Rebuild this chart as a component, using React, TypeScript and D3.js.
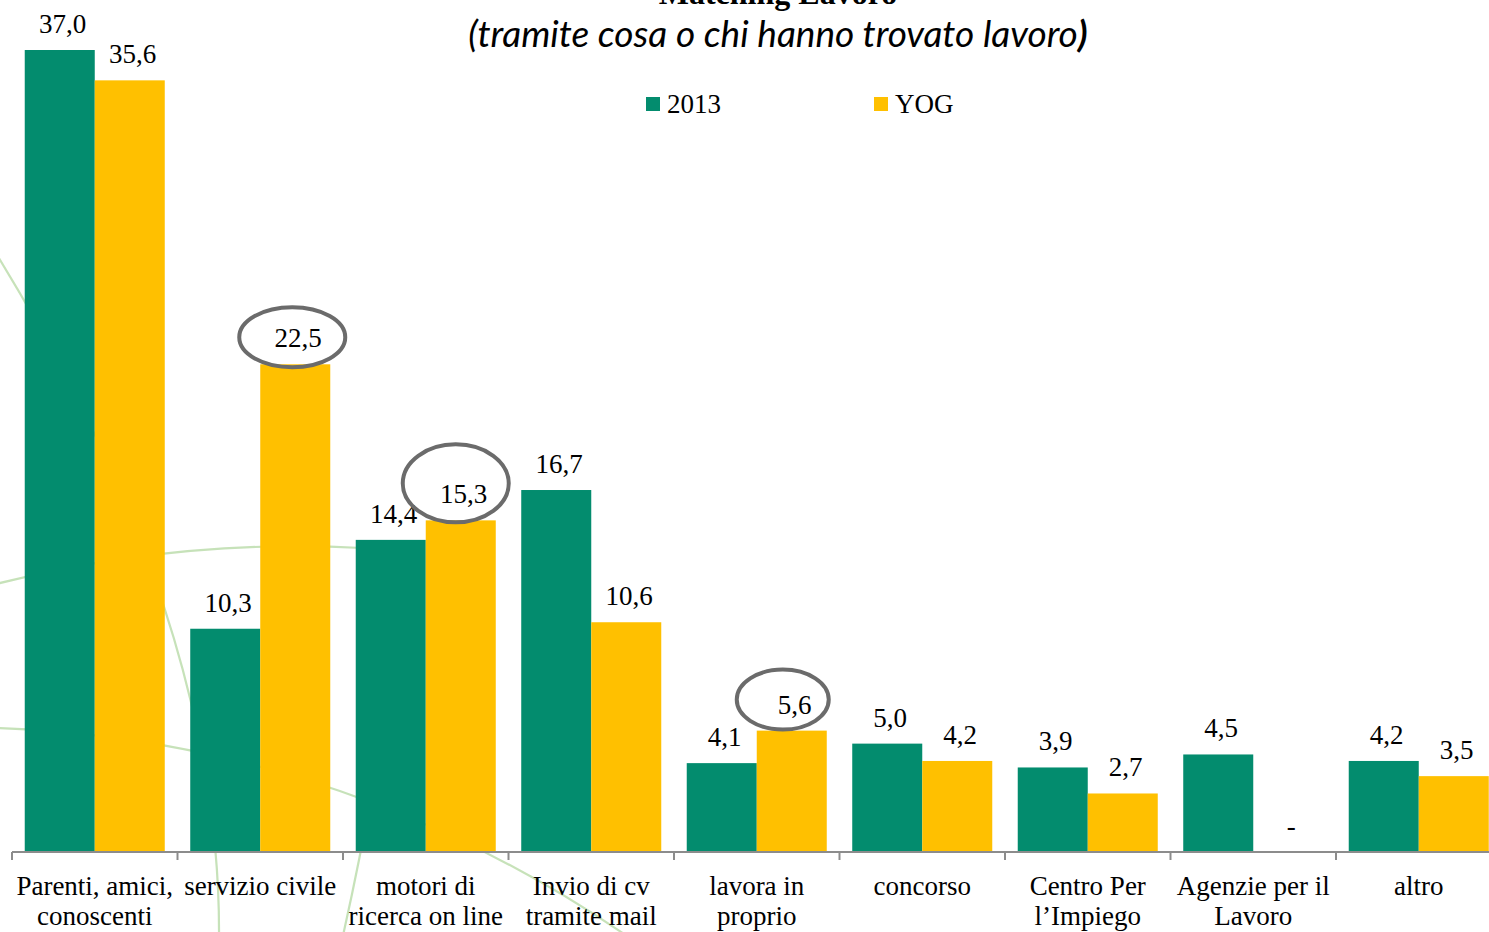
import React from "react";
import * as d3 from "d3";

const categories: string[][] = [
  ["Parenti, amici,", "conoscenti"],
  ["servizio civile"],
  ["motori di", "ricerca on line"],
  ["Invio di cv", "tramite mail"],
  ["lavora in", "proprio"],
  ["concorso"],
  ["Centro Per", "l\u2019Impiego"],
  ["Agenzie per il", "Lavoro"],
  ["altro"],
];
const seriesNames = ["2013", "YOG"];
const values2013 = [37.0, 10.3, 14.4, 16.7, 4.1, 5.0, 3.9, 4.5, 4.2];
const valuesYOG: (number | null)[] = [35.6, 22.5, 15.3, 10.6, 5.6, 4.2, 2.7, null, 3.5];
const highlighted = [
  { cat: 1, dx: -3, dy: -27, rx: 53, ry: 30 },
  { cat: 2, dx: -5, dy: -37, rx: 53, ry: 39 },
  { cat: 4, dx: -9, dy: -31, rx: 46, ry: 30 },
];
const colors = ["#038C6E", "#FFC000"];

const W = 1489;
const H = 932;
const baseY = 852;
const step = 165.5;
const left = 12;

const fmt = (v: number) => v.toFixed(1).replace(".", ",");

export default function App() {
  const keys = categories.map((c) => c.join(" "));
  const x0 = d3
    .scaleBand<string>()
    .domain(keys)
    .range([left, left + step * keys.length])
    .paddingInner(0.154)
    .paddingOuter(0.077);
  const x1 = d3.scaleBand<string>().domain(seriesNames).range([0, x0.bandwidth()]);
  const y = d3.scaleLinear().domain([0, 40]).range([baseY, baseY - 40 * (802 / 37)]);

  const data = [values2013, valuesYOG];
  const serif = "'Liberation Serif', 'DejaVu Serif', serif";
  const fs = 27;

  const bgCurves = [
    "M -6 250 Q 222 620 219 940",
    "M -4 584 Q 180 538 362 548",
    "M -4 728 C 150 733, 390 770, 640 945",
    "M 372 790 Q 360 860 342 940",
  ];

  const ticks = keys.map((_, i) => left + step * i);
  ticks.push(left + step * keys.length);

  return (
    <div style={{ position: "fixed", left: 0, top: 0, width: W, height: H, overflow: "hidden", background: "#fff" }}>
      <svg width={W} height={H} style={{ display: "block" }}>
        <rect width={W} height={H} fill="#ffffff" />
        <g fill="none" stroke="#b9dba8" strokeWidth={2.2} opacity={0.8}>
          {bgCurves.map((d, i) => (
            <path key={i} d={d} />
          ))}
        </g>
        <text x={778} y={4} textAnchor="middle" fontFamily={serif} fontWeight="bold" fontSize={32} fill="#000">
          Matching Lavoro
        </text>
        <text x={778} y={47} textAnchor="middle" fontFamily="Lato, 'Open Sans', sans-serif" fontStyle="italic" fontSize={37} fill="#000">
          (tramite cosa o chi hanno trovato lavoro<tspan fontWeight="bold">)</tspan>
        </text>
        {seriesNames.map((s, i) => (
          <g key={s} transform={`translate(${i === 0 ? 646 : 874},97)`}>
            <rect width={14} height={14} fill={colors[i]} />
            <text x={21} y={16} fontFamily={serif} fontSize={fs} fill="#000">
              {s}
            </text>
          </g>
        ))}
        {keys.map((k, ci) => (
          <g key={k} transform={`translate(${x0(k)},0)`}>
            {seriesNames.map((s, si) => {
              const v = data[si][ci];
              const bx = x1(s)!;
              const bw = x1.bandwidth();
              if (v == null) {
                return (
                  <text key={s} x={bx + bw / 2 + 3} y={baseY - 17} textAnchor="middle" fontFamily={serif} fontSize={fs} fill="#000">
                    -
                  </text>
                );
              }
              return (
                <g key={s}>
                  <rect x={bx} y={y(v)} width={bw} height={baseY - y(v)} fill={colors[si]} />
                  <text x={bx + bw / 2 + 3} y={y(v) - 17} textAnchor="middle" fontFamily={serif} fontSize={fs} fill="#000">
                    {fmt(v)}
                  </text>
                </g>
              );
            })}
          </g>
        ))}
        {highlighted.map((h, i) => {
          const k = keys[h.cat];
          const v = valuesYOG[h.cat] as number;
          const cx = x0(k)! + x1("YOG")! + x1.bandwidth() / 2 + h.dx;
          const cy = y(v) + h.dy;
          return <ellipse key={i} cx={cx} cy={cy} rx={h.rx} ry={h.ry} fill="none" stroke="#6b6b6b" strokeWidth={4} />;
        })}
        <line x1={left} x2={W} y1={baseY} y2={baseY} stroke="#8c8c8c" strokeWidth={2} />
        {ticks.map((t, i) => (
          <line key={i} x1={t} x2={t} y1={baseY} y2={baseY + 8} stroke="#8c8c8c" strokeWidth={2} />
        ))}
        {categories.map((lines, ci) => (
          <text key={ci} textAnchor="middle" fontFamily={serif} fontSize={fs} fill="#000">
            {lines.map((l, li) => (
              <tspan key={li} x={x0(keys[ci])! + x0.bandwidth() / 2} y={895 + li * 30}>
                {l}
              </tspan>
            ))}
          </text>
        ))}
      </svg>
    </div>
  );
}
